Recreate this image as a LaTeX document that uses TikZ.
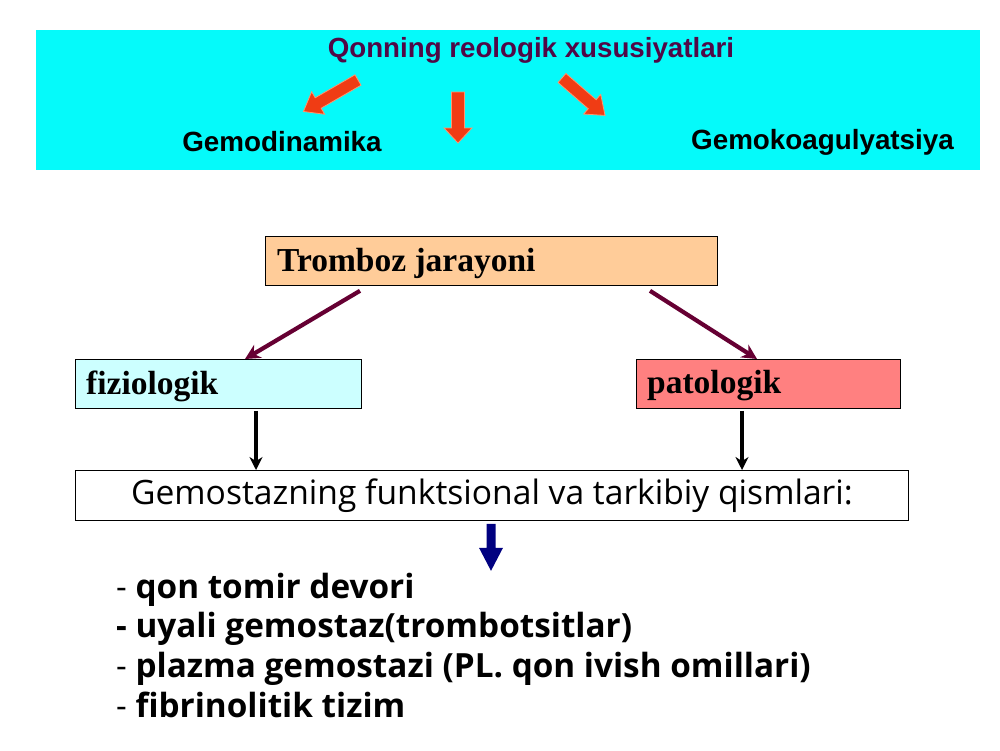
\documentclass[tikz,border=0pt]{standalone}
\usepackage{fontspec}
\setmainfont{Open Sans}
\newfontfamily\arialf{Liberation Sans}
\newfontfamily\tnrf{Liberation Serif}
\newfontfamily\osf{Open Sans}
\usetikzlibrary{arrows.meta,calc}
\definecolor{bandcyan}{RGB}{5,250,250}
\definecolor{titlepurple}{RGB}{80,8,70}
\definecolor{arroworange}{RGB}{240,60,20}
\definecolor{arrowedge}{RGB}{255,150,110}
\definecolor{peach}{RGB}{255,204,153}
\definecolor{lightcyan}{RGB}{204,255,255}
\definecolor{salmon}{RGB}{255,128,128}
\definecolor{maroon}{RGB}{102,0,51}
\definecolor{navy}{RGB}{0,0,128}
\tikzset{
  boxstyle/.style={draw=black, line width=0.8pt, anchor=north west, inner sep=0pt},
  serifbold/.style={font=\tnrf\bfseries\fontsize{33.5}{36}\selectfont, text=black, inner sep=0pt, anchor=west},
  subtitle/.style={font=\arialf\bfseries\fontsize{27.8}{32}\selectfont, text=black},
  listline/.style={font=\osf\fontsize{33.3}{40}\selectfont, text=black, inner sep=0pt, anchor=base west},
  maroonarrow/.style={draw=maroon, line width=4.2pt, -{Stealth[length=15pt,width=15pt]}},
  blackarrow/.style={draw=black, line width=3.4pt, -{Stealth[length=13pt,width=13pt]}},
  blockarrow/.style={fill=arroworange, draw=arrowedge, line width=0.8pt, line join=miter},
}
\begin{document}
\begin{tikzpicture}[x=1pt,y=-1pt]
\useasboundingbox (0,0) rectangle (1000,750);
\fill[white] (0,0) rectangle (1000,750);
% top band
\node[anchor=north west, fill=bandcyan, minimum width=944pt, minimum height=140pt, inner sep=0pt] (band) at (36,30) {};
\node[font=\arialf\bfseries\fontsize{27.7}{32}\selectfont, text=titlepurple] (title) at (531,50) {Qonning reologik xususiyatlari};
\node[subtitle] (gemod) at (282,142) {Gemodinamika};
\node[subtitle] (gemok) at (822.5,142) {Gemokoagulyatsiya};
% block arrows
\begin{scope}[shift={(358,80)}, rotate=210]
  \draw[blockarrow] (0,-6) -- (46,-6) -- (46,-13) -- (63,0) -- (46,13) -- (46,6) -- (0,6) -- cycle;
\end{scope}
\begin{scope}[shift={(458,92)}, rotate=-90]
  \draw[blockarrow] (0,-6.5) -- (36,-6.5) -- (36,-14) -- (51,0) -- (36,14) -- (36,6.5) -- (0,6.5) -- cycle;
\end{scope}
\begin{scope}[shift={(562,78)}, rotate=-41]
  \draw[blockarrow] (0,-6) -- (40,-6) -- (40,-13) -- (57,0) -- (40,13) -- (40,6) -- (0,6) -- cycle;
\end{scope}
% boxes
\node[boxstyle, fill=peach, minimum width=452pt, minimum height=49pt] (tromb) at (265,236) {};
\node[serifbold] (trombt) at (277,263) {Tromboz jarayoni};
\node[boxstyle, fill=lightcyan, minimum width=286pt, minimum height=49pt] (fiz) at (75,359) {};
\node[serifbold] (fizt) at (86,386) {fiziologik};
\node[boxstyle, fill=salmon, minimum width=264pt, minimum height=49pt] (pat) at (636,359) {};
\node[serifbold] (patt) at (647,386) {patologik};
\node[boxstyle, fill=white, minimum width=833pt, minimum height=50pt] (gem) at (75,470) {};
\node[font=\osf\fontsize{33.6}{38}\selectfont, text=black, inner sep=0pt] (gemt) at (492,496) {Gemostazning funktsional va tarkibiy qismlari:};
% connectors
\coordinate (a1s) at ([xshift=95pt,yshift=-5pt]tromb.south west);
\coordinate (a1e) at ([xshift=170pt]fiz.north west);
\coordinate (a2s) at ([xshift=385pt,yshift=-5pt]tromb.south west);
\coordinate (a2e) at ([xshift=121pt]pat.north west);
\draw[maroonarrow] (a1s) -- (a1e);
\draw[maroonarrow] (a2s) -- (a2e);
\coordinate (b1s) at ([xshift=181pt,yshift=-2pt]fiz.south west);
\coordinate (b2s) at ([xshift=106pt,yshift=-2pt]pat.south west);
\draw[blackarrow] (b1s) -- (b1s |- gem.north);
\draw[blackarrow] (b2s) -- (b2s |- gem.north);
% navy block arrow
\coordinate (nv) at ([xshift=416pt,yshift=-3pt]gem.south west);
\begin{scope}[shift={(nv)}, rotate=-90]
  \fill[navy] (0,-4.5) -- (24,-4.5) -- (24,-12) -- (47,0) -- (24,12) -- (24,4.5) -- (0,4.5) -- cycle;
\end{scope}
% list
\node[listline] (l1) at (116,598) {- \textbf{qon tomir devori}};
\node[listline] (l2) at (116,637.7) {\textbf{- uyali gemostaz(trombotsitlar)}};
\node[listline] (l3) at (116,677.4) {- \textbf{plazma gemostazi (PL. qon ivish omillari)}};
\node[listline] (l4) at (116,717.1) {- \textbf{fibrinolitik tizim}};
\end{tikzpicture}
\end{document}
